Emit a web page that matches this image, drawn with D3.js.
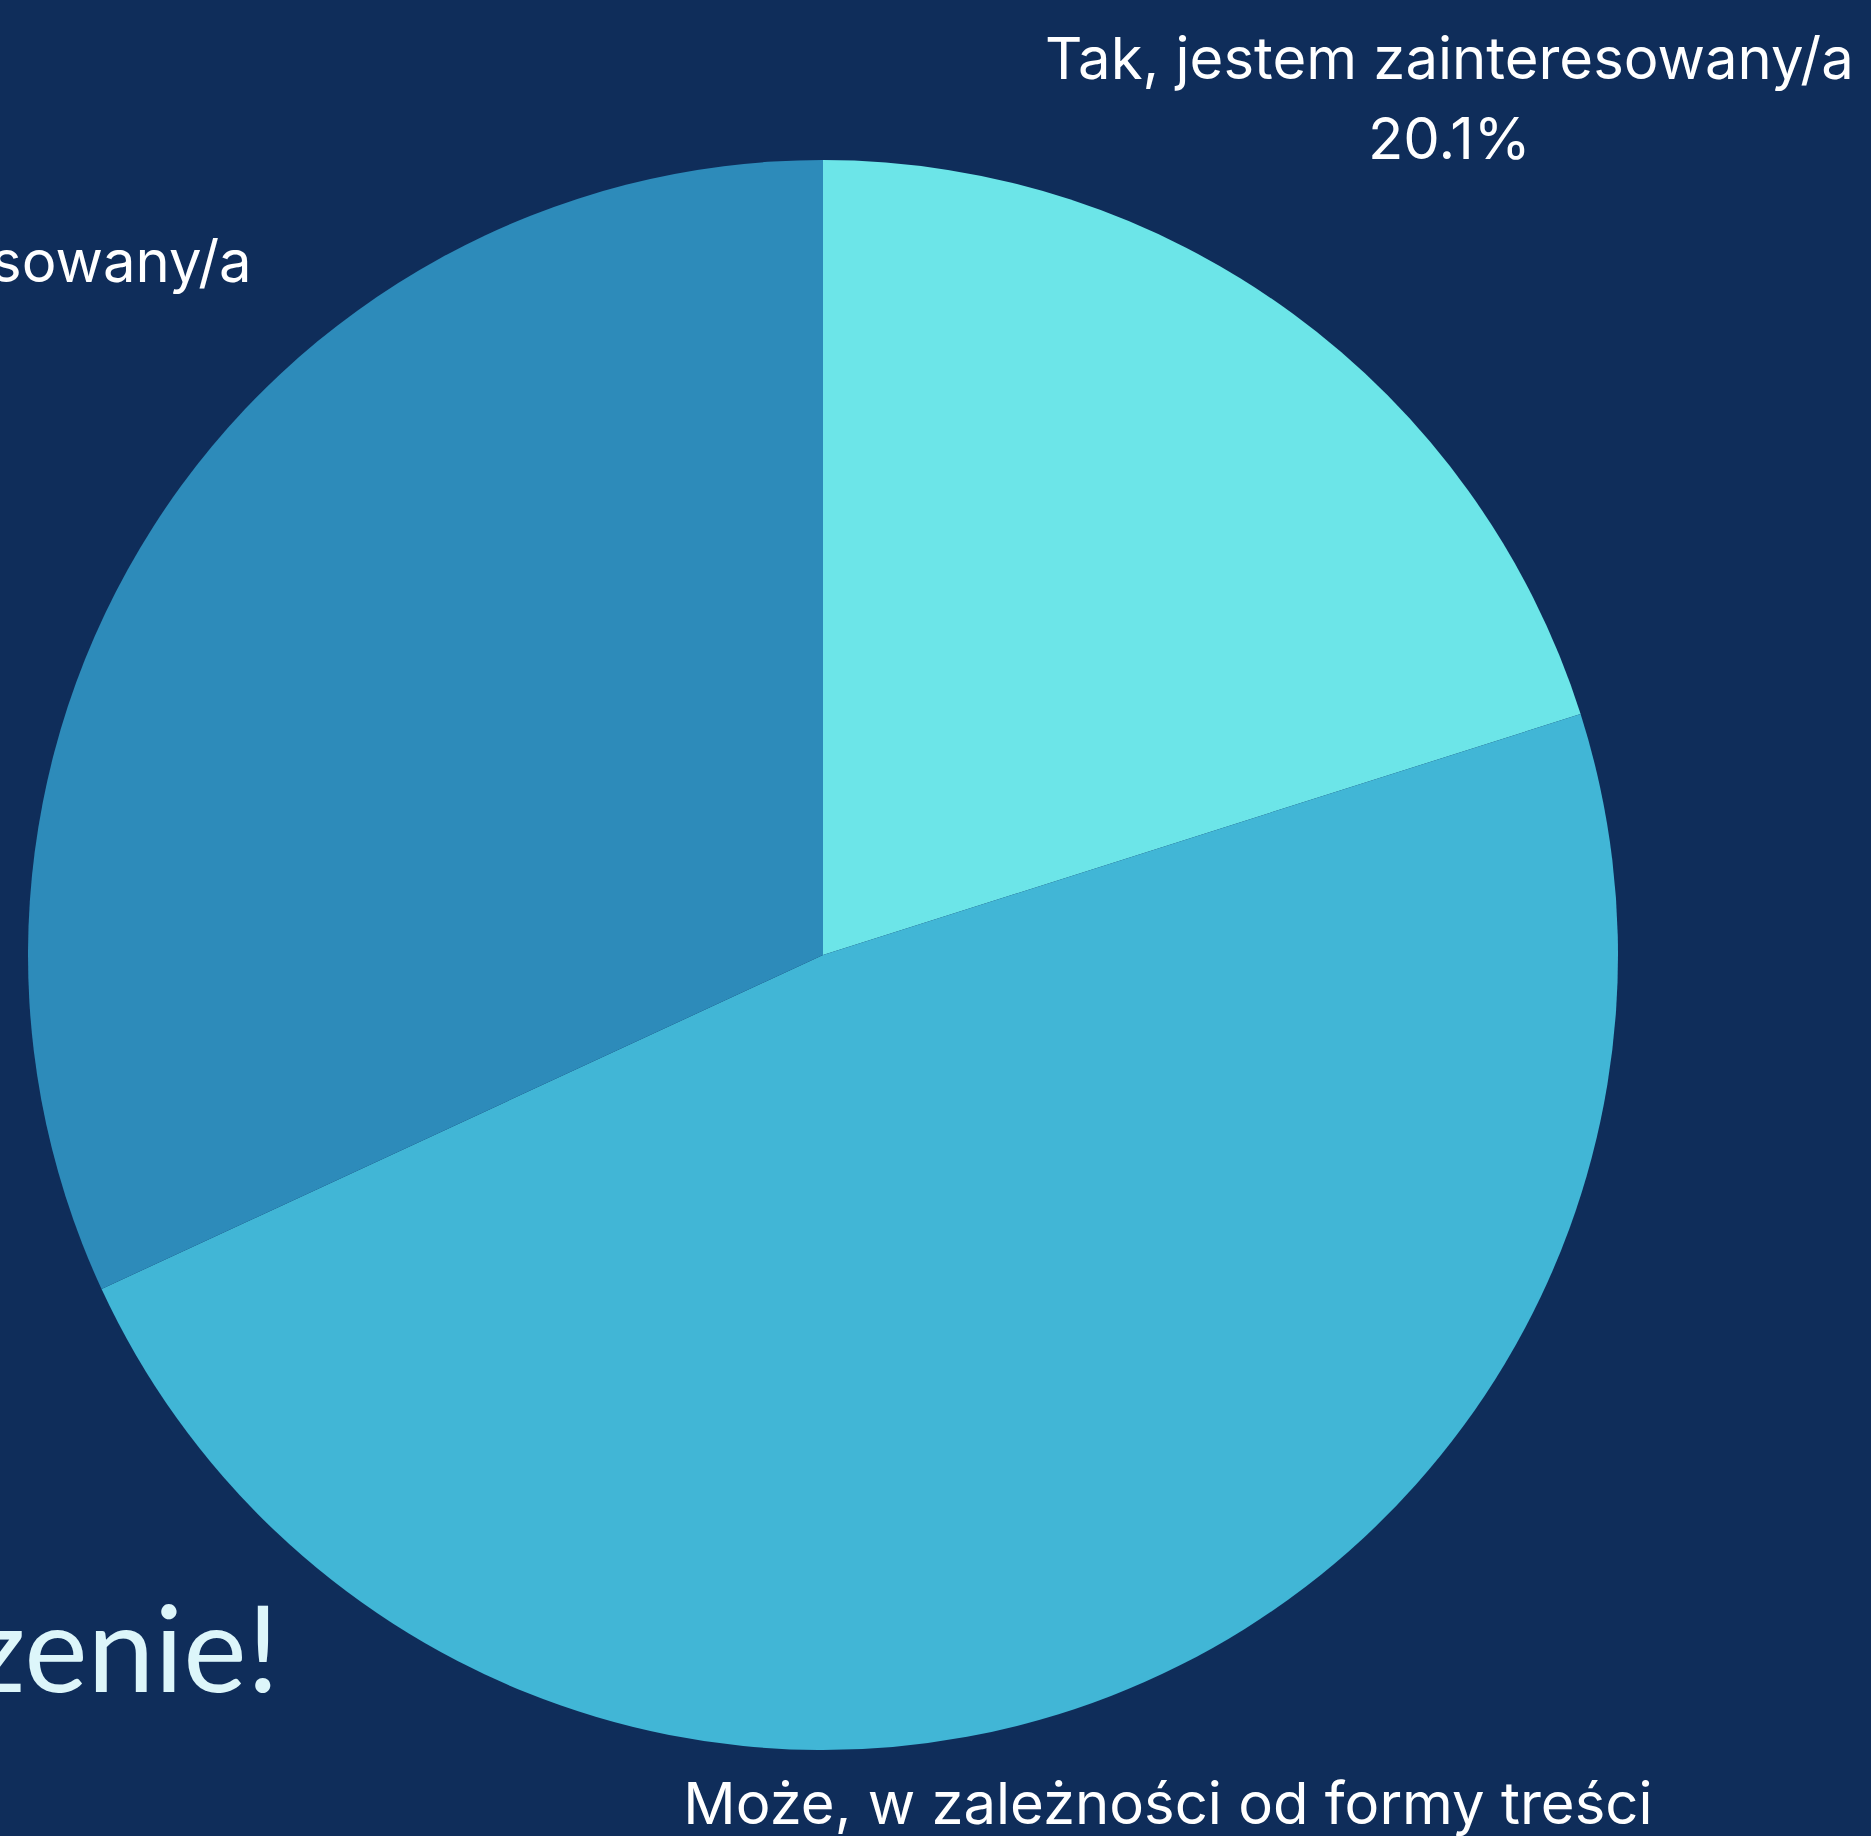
<!DOCTYPE html>
<html>
<head>
<meta charset="utf-8">
<script src="https://cdn.jsdelivr.net/npm/d3@7"></script>
<style>
  html, body { margin: 0; padding: 0; background: #0f2d5a; overflow: hidden; }
  svg { display: block; }
</style>
</head>
<body>
<div id="chart"></div>
<script>
// pie data, clockwise from 12 o'clock
const categories = [
    "Tak, jestem zainteresowany/a",
    "Może, w zależności od formy treści",
    "Nie, nie jestem zainteresowany/a"
];
const shares = [20.1, 48.0, 31.9];
const colors = ["#6ce5e8", "#41b6d6", "#2d8bba"];
const title = "Dziękujemy za zgłoszenie!";

const width = 1871, height = 1836;
const cx = 823, cy = 955, radius = 795;
// distance of each label block centre from the pie centre, plus a small nudge
const labelRadius = [1061, 952, 1227];
const labelShift = [[0, -2], [0, 0], [12, 6]];

const svg = d3.select("#chart").append("svg")
    .attr("width", width)
    .attr("height", height)
    .style("background", "#0f2d5a");

const pie = d3.pie().sort(null).value(d => d)(shares);
const arc = d3.arc().innerRadius(0).outerRadius(radius);

const g = svg.append("g").attr("transform", `translate(${cx},${cy})`);

g.selectAll("path")
    .data(pie)
    .join("path")
    .attr("d", arc)
    .attr("fill", (d, i) => colors[i]);

const labels = g.selectAll("g.label")
    .data(pie)
    .join("g")
    .attr("class", "label")
    .attr("transform", (d, i) => {
        const a = (d.startAngle + d.endAngle) / 2;
        const r = labelRadius[i];
        const x = Math.sin(a) * r + labelShift[i][0];
        const y = -Math.cos(a) * r + labelShift[i][1];
        return `translate(${x},${y})`;
    });

labels.append("text")
    .attr("text-anchor", "middle")
    .attr("font-family", "Inter, sans-serif")
    .attr("font-size", 58)
    .attr("letter-spacing", 0)
    .attr("fill", "#ffffff")
    .selectAll("tspan")
    .data((d, i) => [categories[i], d3.format(".1f")(shares[i]) + "%"])
    .join("tspan")
    .attr("x", 0)
    .attr("y", (d, j) => j === 0 ? -18 : 62)
    .text(d => d);

svg.append("text")
    .attr("x", 279)
    .attr("y", 1692)
    .attr("text-anchor", "end")
    .attr("font-family", "Lato, 'Open Sans', sans-serif")
    .attr("font-size", 120)
    .attr("fill", "#ddf6fa")
    .text(title);
</script>
</body>
</html>
